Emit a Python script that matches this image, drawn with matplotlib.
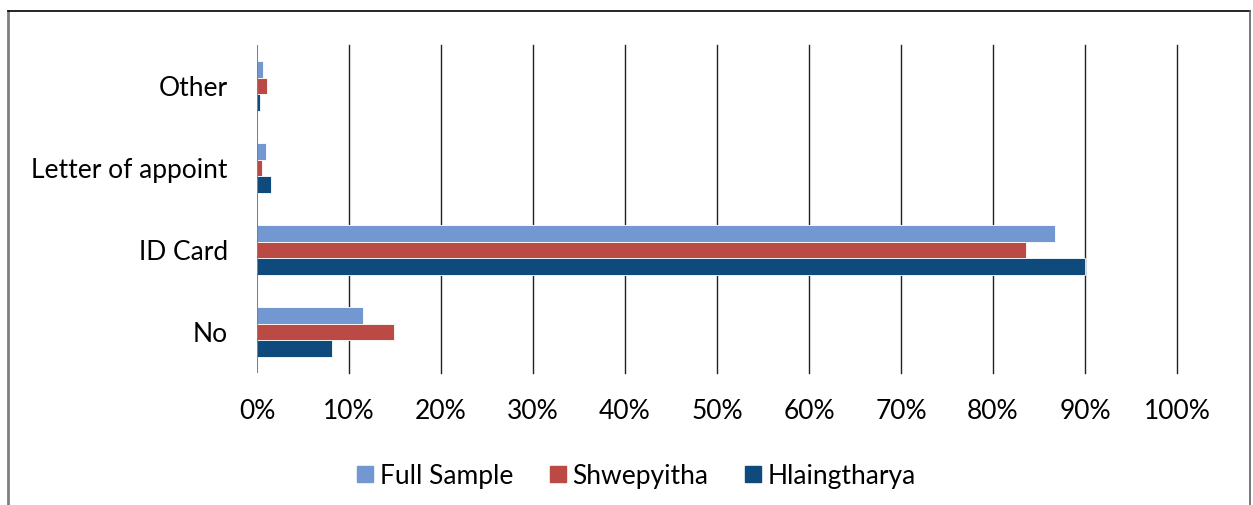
import numpy as np
import matplotlib.pyplot as plt
from matplotlib.lines import Line2D

# -------------------------------
# DATA
# -------------------------------
categories = ["No", "ID Card", "Letter of appoint", "Other"]
full_sample = [11.5, 86.7, 1.0, 0.6]
shwepyitha = [14.9, 83.6, 0.5, 1.1]
hlaingtharya = [8.2, 90.0, 1.5, 0.3]
series_names = ["Full Sample", "Shwepyitha", "Hlaingtharya"]
colors = ["#7397D0", "#BB4A45", "#0E4A7C"]
xticks = list(range(0, 101, 10))

# -------------------------------
# FIGURE
# -------------------------------
plt.rcParams['font.family'] = ['Lato', 'DejaVu Sans']
fs = 19
fig = plt.figure(figsize=(12.53, 5.05), dpi=100)
ax = fig.add_axes([0.2051, 0.2614, 0.7342, 0.6495])

y = np.arange(len(categories))
h = 0.207
for i, vals in enumerate([full_sample, shwepyitha, hlaingtharya]):
    ax.barh(y + (1 - i) * h, vals, height=h, color=colors[i],
            edgecolor="white", linewidth=0.6, label=series_names[i], zorder=3)

ax.set_xlim(0, 100)
ax.set_ylim(-0.5, len(categories) - 0.5)
ax.set_xticks(xticks)
ax.set_xticklabels([f"{t}%" for t in xticks], fontsize=fs)
ax.set_yticks(y)
ax.set_yticklabels(categories, fontsize=fs)
ax.tick_params(axis='both', length=0)
ax.tick_params(axis='x', pad=19)
ax.tick_params(axis='y', pad=21)

for t in xticks[1:]:
    ax.axvline(t, color="#222222", linewidth=1.0, zorder=1, clip_on=False)
ax.axvline(0, color="#808080", linewidth=1.5, zorder=4)

for s in ax.spines.values():
    s.set_visible(False)

# legend
handles = [Line2D([], [], marker='s', linestyle='none', markersize=12,
                  markerfacecolor=c, markeredgecolor=c) for c in colors]
fig.legend(handles, series_names, loc='center', bbox_to_anchor=(0.508, 0.0574),
           ncol=3, frameon=False, fontsize=fs, handlelength=0.6,
           handletextpad=0.25, columnspacing=1.4)

# outer frame
fig.add_artist(Line2D([0.0064, 0.0064], [0.0, 0.978], color="#808080", linewidth=2))
fig.add_artist(Line2D([0.0064, 0.9976], [0.978, 0.978], color="black", linewidth=1.2))
fig.add_artist(Line2D([0.9976, 0.9976], [0.0, 0.978], color="#606060", linewidth=1.2))

fig.savefig("out.png", dpi=100)
